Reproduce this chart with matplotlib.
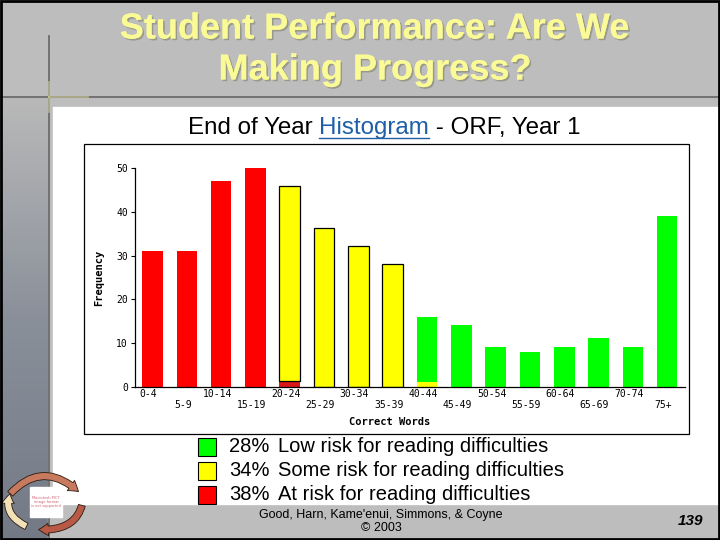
import numpy as np
import matplotlib
matplotlib.use("Agg")
import matplotlib.pyplot as plt
from matplotlib.patches import Rectangle, FancyArrowPatch
from matplotlib.path import Path
from matplotlib.transforms import ScaledTranslation
import matplotlib.patheffects as pe

bins = ["0-4", "5-9", "10-14", "15-19", "20-24", "25-29", "30-34", "35-39",
        "40-44", "45-49", "50-54", "55-59", "60-64", "65-69", "70-74", "75+"]
at_risk = [31, 31, 47, 50, 1.3, 0, 0, 0, 0, 0, 0, 0, 0, 0, 0, 0]
some_risk = [0, 0, 0, 0, 44.5, 36.3, 32.2, 28.0, 1.2, 0, 0, 0, 0, 0, 0, 0]
low_risk = [0, 0, 0, 0, 0, 0, 0, 0, 14.8, 14.2, 9.1, 8.0, 9.1, 11.2, 9.1, 39.1]

legend_pct = ["28%", "34%", "38%"]
legend_txt = ["Low risk for reading difficulties",
              "Some risk for reading difficulties",
              "At risk for reading difficulties"]
legend_col = ["#00ff00", "#ffff00", "#ff0000"]

ARIAL = ["Liberation Sans", "DejaVu Sans"]
MONO = ["DejaVu Sans Mono"]

W, H = 720, 540
fig = plt.figure(figsize=(W / 100, H / 100), dpi=100, facecolor="#bdbdbd")

# slide decoration, in pixel coordinates
bg = fig.add_axes([0, 0, 1, 1], zorder=0)
bg.set_xlim(0, W); bg.set_ylim(H, 0); bg.axis("off")
grad = np.linspace(0, 1, 256)[:, None]
cmap = matplotlib.colors.LinearSegmentedColormap.from_list("strip", ["#b9b9b9", "#8a909a", "#737a86"])
bg.imshow(grad, extent=(0, 48, H, 97), cmap=cmap, aspect="auto", zorder=0)
bg.add_patch(Rectangle((48, 504), W - 48, 36, color="#bdbdbd", zorder=1))
bg.add_patch(Rectangle((53, 107), 665, 397, color="white", zorder=1))
bg.plot([49, 49], [36, H], color="#6c6c6c", lw=1.3, zorder=2)
bg.plot([0, W], [97, 97], color="#6c6c6c", lw=1.3, zorder=2)
bg.plot([49, 88], [97, 97], color="#dede9a", lw=1.3, alpha=0.55, zorder=3)
bg.plot([49, 49], [82, 112], color="#dede9a", lw=1.3, alpha=0.55, zorder=3)
bg.add_patch(Rectangle((84, 144), 605, 290, facecolor="white", edgecolor="black", lw=0.9, zorder=2))
bg.add_patch(Rectangle((1, 1), W - 2, H - 2, fill=False, edgecolor="black", lw=2, zorder=10))

# recycle logo (unsupported picture placeholder)
cx, cy, rx, ry = 45, 503, 37, 27


def ell(a):
    a = np.radians(a)
    return np.array([cx + rx * np.cos(a), cy - ry * np.sin(a)])


for a0, a1, col in [(160, 25, "#c77a5e"), (-5, -100, "#b85a45"), (-120, -200, "#f3e2b8")]:
    p0, p1, pm = ell(a0), ell(a1), ell((a0 + a1) / 2)
    ctrl = 2 * pm - (p0 + p1) / 2
    arc = Path([p0, ctrl, p1], [Path.MOVETO, Path.CURVE3, Path.CURVE3])
    bg.add_patch(FancyArrowPatch(path=arc,
                                 arrowstyle="simple,head_width=9,head_length=7,tail_width=5",
                                 facecolor=col, edgecolor="#2a1a10", lw=0.6, zorder=4))
bg.add_patch(Rectangle((30, 487), 32, 30, color="white", zorder=5))
bg.text(46, 502, "Macintosh PICT\nimage format\nis not supported", fontsize=2.6,
        color="#d06070", ha="center", va="center", zorder=6, linespacing=1.1)

shadow = [pe.withSimplePatchShadow(offset=(1.2, -1.2), shadow_rgbFace="#80806a", alpha=0.6), pe.Normal()]
bg.text(375, 29, "Student Performance: Are We", family=ARIAL, weight="bold", fontsize=26,
        color="#fafa96", ha="center", va="center", path_effects=shadow, zorder=5)
bg.text(375, 70, "Making Progress?", family=ARIAL, weight="bold", fontsize=26,
        color="#fafa96", ha="center", va="center", path_effects=shadow, zorder=5)

# subtitle with link-styled word
t1 = bg.text(188, 128, "End of Year ", family=ARIAL, fontsize=17.4, ha="left", va="center", zorder=5)
fig.canvas.draw()
ext = t1.get_window_extent()
t2 = bg.text(ext.x1, H - 128, "Histogram", family=ARIAL, fontsize=17.4, color="#1f5fa8",
             ha="left", va="center", transform=None, zorder=5)
fig.canvas.draw()
e2 = t2.get_window_extent()
bg.plot([e2.x0, e2.x1], [H - e2.y0 - 1, H - e2.y0 - 1], color="#1f5fa8", lw=1, zorder=5)
bg.text(e2.x1, H - 128, " - ORF, Year 1", family=ARIAL, fontsize=17.4,
        ha="left", va="center", transform=None, zorder=5)

for i, (pct, txt, col) in enumerate(zip(legend_pct, legend_txt, legend_col)):
    y = 447 + 24 * i
    bg.add_patch(Rectangle((198, y - 9), 18, 18, facecolor=col, edgecolor="black", lw=0.8, zorder=5))
    bg.text(229, y, pct, family=ARIAL, fontsize=14.5, ha="left", va="center", zorder=5)
    bg.text(278, y, txt, family=ARIAL, fontsize=14.5, ha="left", va="center", zorder=5)

bg.text(381, 515, "Good, Harn, Kame'enui, Simmons, & Coyne", family=ARIAL, fontsize=9,
        ha="center", va="center", zorder=5)
bg.text(381, 528, "\u00a9 2003", family=ARIAL, fontsize=9, ha="center", va="center", zorder=5)
bg.text(703, 521, "139", family=ARIAL, fontsize=11, weight="bold", style="italic",
        ha="right", va="center", zorder=5)

# histogram
ax = fig.add_axes([135 / W, 1 - 387 / H, 550 / W, 219 / H], zorder=2)
ax.patch.set_alpha(0)
x = np.arange(len(bins))
bw = 0.6
red = ax.bar(x, at_risk, bw, color="#ff0000", edgecolor="none")
red[4].set_facecolor("#d81818")
some_edges = ["black" if v > 5 else "none" for v in some_risk]
ax.bar(x, some_risk, bw, bottom=at_risk, color="#ffff00", edgecolor=some_edges, lw=0.9)
base2 = np.array(at_risk) + np.array(some_risk)
ax.bar(x, low_risk, bw, bottom=base2, color="#00ff00", edgecolor="none")

ax.set_xlim(-0.51, 15.52)
ax.set_ylim(0, 50)
ax.set_yticks([0, 10, 20, 30, 40, 50])
ax.tick_params(axis="y", length=3, width=0.8, labelsize=7, pad=2)
for lab in ax.get_yticklabels():
    lab.set_family(MONO)
ax.set_xticks(x, bins, fontsize=7, family=MONO)
ax.tick_params(axis="x", length=0)
off = ScaledTranslation(-4 / 100, 0, fig.dpi_scale_trans)
for i, tk in enumerate(ax.xaxis.get_major_ticks()):
    tk.set_pad(1.5 if i % 2 == 0 else 9.5)
    tk.label1.set_transform(tk.label1.get_transform() + off)
for s in ["top", "right"]:
    ax.spines[s].set_visible(False)
ax.spines["left"].set_linewidth(0.9)
ax.spines["bottom"].set_linewidth(0.9)
ax.set_ylabel("Frequency", family=MONO, weight="bold", fontsize=7.5, labelpad=9)
bg.text(390, 422, "Correct Words", family=MONO, weight="bold", fontsize=7.5,
        ha="center", va="center", zorder=5)

fig.savefig("out.png", dpi=100, facecolor=fig.get_facecolor())
